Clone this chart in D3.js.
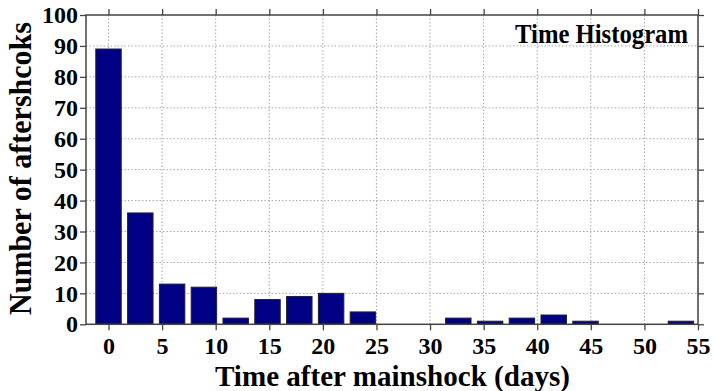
<!DOCTYPE html>
<html>
<head>
<meta charset="utf-8">
<script src="https://cdn.jsdelivr.net/npm/d3@7"></script>
<style>
  body { margin: 0; background: #fff; }
  text { font-family: "Liberation Serif", "Times New Roman", serif; font-weight: bold; fill: #000; }
</style>
</head>
<body>
<div id="content"></div>
<script>
// histogram bins (centres in days) and counts
const binStep = 2.967;
const counts = [89, 36, 13, 12, 2, 8, 9, 10, 4, 0, 0, 2, 1, 2, 3, 1, 0, 0, 1];
const centers = counts.map((c, i) => i * binStep);
const xTicks = [0, 5, 10, 15, 20, 25, 30, 35, 40, 45, 50, 55];
const yTicks = [0, 10, 20, 30, 40, 50, 60, 70, 80, 90, 100];

const width = 713;
const height = 391;
const plotL = 86, plotR = 698, plotT = 15, plotB = 324.3;

const svg = d3.select("#content")
    .append("svg")
    .attr("width", width)
    .attr("height", height);

const xScale = d3.scaleLinear()
    .domain([-2.1, 55])
    .range([plotL, plotR]);
const yScale = d3.scaleLinear()
    .domain([0, 100])
    .range([plotB, plotT]);

// grid
svg.append("g")
    .selectAll("line")
    .data(xTicks)
    .enter()
    .append("line")
    .attr("x1", d => xScale(d))
    .attr("x2", d => xScale(d))
    .attr("y1", plotT)
    .attr("y2", plotB)
    .attr("stroke", "#aaa")
    .attr("stroke-width", 1)
    .attr("stroke-dasharray", "1.5,2");
svg.append("g")
    .selectAll("line")
    .data(yTicks.slice(1, -1))
    .enter()
    .append("line")
    .attr("x1", plotL)
    .attr("x2", plotR)
    .attr("y1", d => yScale(d))
    .attr("y2", d => yScale(d))
    .attr("stroke", "#aaa")
    .attr("stroke-width", 1)
    .attr("stroke-dasharray", "1.5,2");

// bars
const barW = binStep * 0.8;
svg.selectAll("rect.bar")
    .data(counts)
    .enter()
    .append("rect")
    .attr("class", "bar")
    .attr("x", (d, i) => xScale(centers[i] - barW / 2))
    .attr("y", d => yScale(d))
    .attr("width", xScale(barW) - xScale(0))
    .attr("height", d => plotB - yScale(d))
    .attr("fill", "#000084")
    .attr("stroke", "#222")
    .attr("stroke-width", 1);

// axes
const axisColor = "#444";
function styleAxis(g, labels) {
    g.select(".domain").remove();
    g.selectAll(".tick line").attr("stroke", axisColor).attr("stroke-width", 1.3);
    if (!labels) g.selectAll(".tick text").remove();
    else g.selectAll(".tick text").style("font-size", "24px");
}
svg.append("g")
    .attr("transform", `translate(0, ${plotB})`)
    .call(d3.axisBottom(xScale).tickValues(xTicks).tickSize(6).tickPadding(6.5))
    .call(g => styleAxis(g, true));
svg.append("g")
    .attr("transform", `translate(0, ${plotT})`)
    .call(d3.axisTop(xScale).tickValues(xTicks).tickSize(6))
    .call(g => styleAxis(g, false));
svg.append("g")
    .attr("transform", `translate(${plotL}, 0)`)
    .call(d3.axisLeft(yScale).tickValues(yTicks).tickSize(6).tickPadding(2))
    .call(g => styleAxis(g, true));
svg.append("g")
    .attr("transform", `translate(${plotR}, 0)`)
    .call(d3.axisRight(yScale).tickValues(yTicks).tickSize(6))
    .call(g => styleAxis(g, false));

svg.append("rect")
    .attr("x", plotL)
    .attr("y", plotT)
    .attr("width", plotR - plotL)
    .attr("height", plotB - plotT)
    .attr("fill", "none")
    .attr("stroke", axisColor)
    .attr("stroke-width", 1.5);

// labels
svg.append("text")
    .attr("x", 392.5)
    .attr("y", 385.5)
    .attr("text-anchor", "middle")
    .attr("textLength", 355)
    .attr("lengthAdjust", "spacingAndGlyphs")
    .style("font-size", "29px")
    .text("Time after mainshock (days)");
svg.append("text")
    .attr("transform", "translate(31, 168.5) rotate(-90)")
    .attr("text-anchor", "middle")
    .attr("textLength", 293)
    .attr("lengthAdjust", "spacingAndGlyphs")
    .style("font-size", "32px")
    .text("Number of aftershcoks");
svg.append("text")
    .attr("x", 601.5)
    .attr("y", 43)
    .attr("text-anchor", "middle")
    .attr("textLength", 173)
    .attr("lengthAdjust", "spacingAndGlyphs")
    .style("font-size", "26.5px")
    .text("Time Histogram");
</script>
</body>
</html>
